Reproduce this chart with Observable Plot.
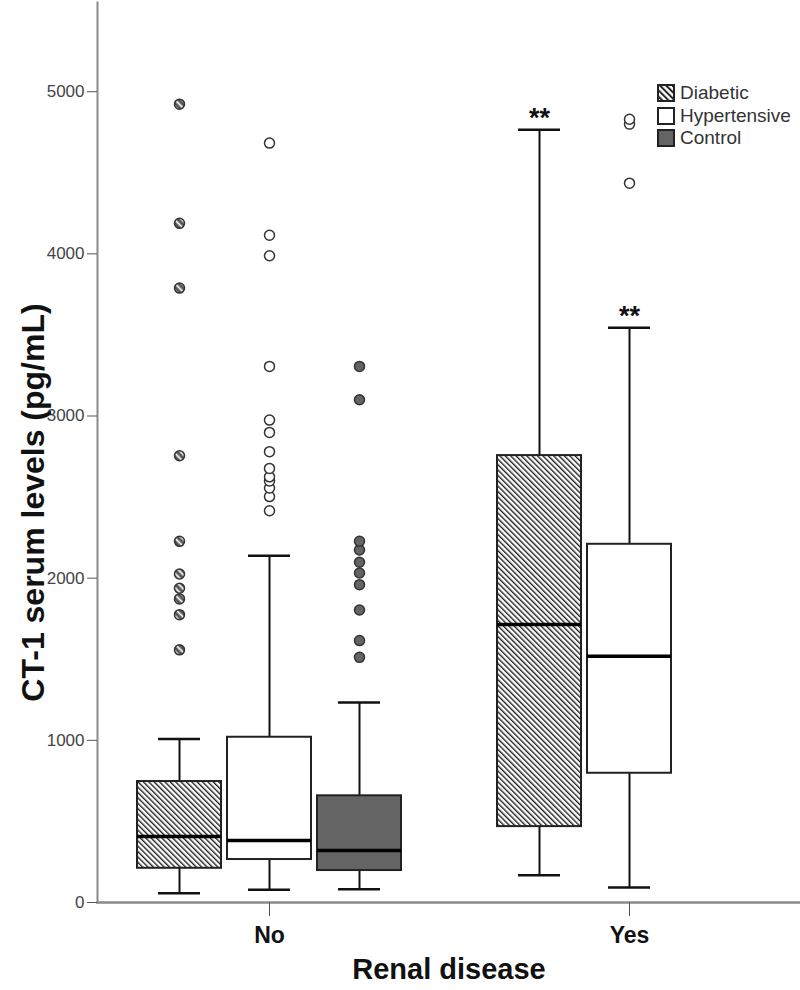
<!DOCTYPE html>
<html>
<head>
<meta charset="utf-8">
<script src="https://cdn.jsdelivr.net/npm/d3@7"></script>
<script src="https://cdn.jsdelivr.net/npm/@observablehq/plot@0.6"></script>
<style>
  body { margin: 0; background: #fff; font-family: "Liberation Sans", Arial, sans-serif; }
  #wrap { position: relative; width: 800px; height: 990px; }
  #legend { position: absolute; left: 657px; top: 82px; font-size: 19px; color: #333; }
  #legend .row { display: flex; align-items: center; height: 22.5px; }
  #legend svg { margin-right: 5px; }
</style>
</head>
<body>
<svg width="0" height="0" style="position:absolute">
  <defs>
    <pattern id="hatch" width="3.8" height="3.8" patternUnits="userSpaceOnUse" patternTransform="rotate(-45)">
      <rect width="3.8" height="3.8" fill="#fff"></rect>
      <line x1="0.7" y1="0" x2="0.7" y2="3.8" stroke="#222" stroke-width="1.4"></line>
    </pattern>
    <pattern id="hatchLegend" width="4.4" height="4.4" patternUnits="userSpaceOnUse" patternTransform="rotate(-45)">
      <rect width="4.4" height="4.4" fill="#fff"></rect>
      <line x1="1" y1="0" x2="1" y2="4.4" stroke="#222" stroke-width="2"></line>
    </pattern>
    <pattern id="hatchDot" width="5" height="5" patternUnits="userSpaceOnUse" patternTransform="rotate(-45)">
      <rect width="5" height="5" fill="#555"></rect>
      <line x1="3.5" y1="0" x2="3.5" y2="5" stroke="#fff" stroke-width="1.8"></line>
    </pattern>
  </defs>
</svg>
<div id="wrap">
  <div id="chart"></div>
  <div id="legend"></div>
</div>
<script>
// ---- data ----
const renalCategories = ["No", "Yes"];
const groups = ["Diabetic", "Hypertensive", "Control"];
const groupFills = ["url(#hatch)", "#ffffff", "#646464"];
const legendFills = ["url(#hatchLegend)", "#ffffff", "#646464"];
const dotFills = ["url(#hatchDot)", "#ffffff", "#646464"];

const boxRenal = ["No", "No", "No", "Yes", "Yes"];
const boxGroup = ["Diabetic", "Hypertensive", "Control", "Diabetic", "Hypertensive"];
const whiskerLow = [57, 78, 82, 168, 93];
const quartile1 = [211, 265, 197, 468, 797];
const median = [407, 382, 321, 1715, 1519];
const quartile3 = [746, 1019, 658, 2756, 2209];
const whiskerHigh = [1009, 2139, 1233, 4765, 3545];
const significance = ["", "", "", "**", "**"];

const outliersNoDiabetic = [1558, 1775, 1872, 1938, 2026, 2227, 2755, 3789, 4188, 4923];
const outliersNoHypertensive = [2416, 2503, 2556, 2600, 2625, 2677, 2780, 2899, 2975, 3306, 3988, 4115, 4683];
const outliersNoControl = [1512, 1615, 1804, 1960, 2032, 2098, 2174, 2227, 3100, 3306];
const outliersYesHypertensive = [4436, 4800, 4830];

const yTicks = [0, 1000, 2000, 3000, 4000, 5000];
const yLabel = "CT-1 serum levels (pg/mL)";
const xLabel = "Renal disease";

// ---- build tables ----
const key = (r, g) => r + "|" + g;
const boxes = boxRenal.map((r, i) => ({
  renal: r, group: boxGroup[i], key: key(r, boxGroup[i]),
  lo: whiskerLow[i], q1: quartile1[i], med: median[i], q3: quartile3[i], hi: whiskerHigh[i],
  sig: significance[i]
}));
const outliers = [
  ...outliersNoDiabetic.map(v => ({renal: "No", group: "Diabetic", v})),
  ...outliersNoHypertensive.map(v => ({renal: "No", group: "Hypertensive", v})),
  ...outliersNoControl.map(v => ({renal: "No", group: "Control", v})),
  ...outliersYesHypertensive.map(v => ({renal: "Yes", group: "Hypertensive", v}))
].map(d => ({...d, key: key(d.renal, d.group)}));

// x domain: clusters of three groups per renal category, with a spacer between clusters
const xDomain = [];
renalCategories.forEach((r, i) => {
  if (i > 0) xDomain.push("gap" + i);
  groups.forEach(g => xDomain.push(key(r, g)));
});
const xTicks = renalCategories.map(r => key(r, "Hypertensive"));

const font = "'Liberation Sans', Arial, sans-serif";

const boxMarks = groups.map((g, gi) =>
  Plot.barY(boxes.filter(d => d.group === g), {
    x: "key", y1: "q1", y2: "q3", fill: groupFills[gi], stroke: "#222", strokeWidth: 2
  })
);
const dotMarks = groups.map((g, gi) =>
  Plot.dot(outliers.filter(d => d.group === g), {
    x: "key", y: "v", r: 5, fill: dotFills[gi], stroke: "#333", strokeWidth: 1.5
  })
);

const chart = Plot.plot({
  width: 800,
  height: 990,
  marginLeft: 97,
  marginRight: 0,
  marginTop: 2,
  marginBottom: 88,
  style: {fontFamily: font, background: "#fff"},
  x: {type: "band", domain: xDomain, paddingInner: 0.0687, paddingOuter: 0.431},
  y: {domain: [0, 5550]},
  marks: [
    Plot.ruleX(boxes, {x: "key", y1: "lo", y2: "hi", stroke: "#111", strokeWidth: 2}),
    Plot.tickY(boxes, {x: "key", y: "lo", insetLeft: 21, insetRight: 21, stroke: "#111", strokeWidth: 2.5}),
    Plot.tickY(boxes, {x: "key", y: "hi", insetLeft: 21, insetRight: 21, stroke: "#111", strokeWidth: 2.5}),
    ...boxMarks,
    Plot.tickY(boxes, {x: "key", y: "med", stroke: "#000", strokeWidth: 3.5}),
    ...dotMarks,
    Plot.text(boxes, {x: "key", y: "hi", text: "sig", fontSize: 27, fontWeight: "bold", fill: "#111",
      lineAnchor: "bottom", dy: -3}),
    Plot.frame({anchor: "left", stroke: "#8a8a8a", strokeWidth: 2}),
    Plot.frame({anchor: "bottom", stroke: "#8a8a8a", strokeWidth: 2.5}),
    Plot.axisY({ticks: yTicks, tickFormat: d => String(d), tickSize: 10, tickPadding: 3,
      fontSize: 17, fill: "#444", stroke: "#555", label: null}),
    Plot.axisX({ticks: xTicks, tickFormat: d => d.split("|")[0], tickSize: 14, tickPadding: 10,
      fontSize: 23, fontWeight: "bold", fill: "#111", stroke: "#555", label: null}),
    Plot.text([yLabel], {frameAnchor: "left", textAnchor: "middle", dx: -64, dy: 50, rotate: -90,
      fontSize: 32, fontWeight: "bold", fill: "#111", lineAnchor: "middle"}),
    Plot.text([xLabel], {frameAnchor: "bottom", dy: 76, fontSize: 29, fontWeight: "bold",
      fill: "#111", lineAnchor: "bottom"})
  ]
});
document.getElementById("chart").appendChild(chart);

// legend
const legend = d3.select("#legend");
groups.forEach((g, i) => {
  const row = legend.append("div").attr("class", "row");
  const s = row.append("svg").attr("width", 18).attr("height", 18);
  s.append("rect").attr("x", 1).attr("y", 1).attr("width", 16).attr("height", 16)
    .attr("fill", legendFills[i]).attr("stroke", "#222").attr("stroke-width", 2);
  row.append("span").text(g);
});
</script>
</body>
</html>
